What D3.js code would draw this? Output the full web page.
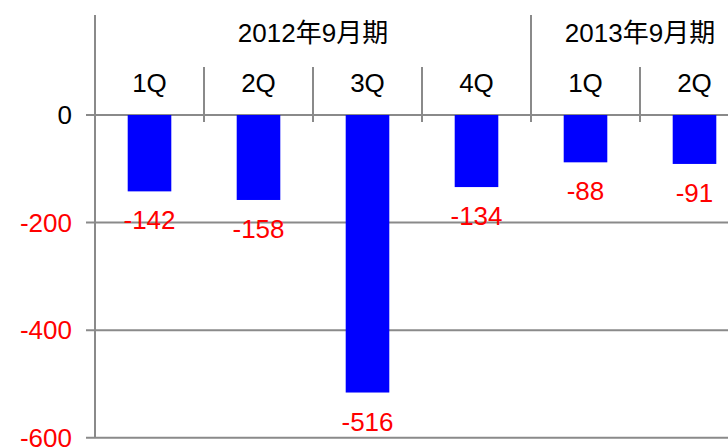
<!DOCTYPE html>
<html>
<head>
<meta charset="utf-8">
<script src="https://cdn.jsdelivr.net/npm/d3@7"></script>
<style>
  body { margin: 0; background: #fff; }
  text { font-family: "Liberation Sans", Arial, "Noto Sans CJK JP", sans-serif; }
</style>
</head>
<body>
<div id="chart"></div>
<script>
"use strict";

let quarters = ['1Q', '2Q', '3Q', '4Q', '1Q', '2Q'];
let groups = ['2012年9月期', '2012年9月期', '2012年9月期', '2012年9月期', '2013年9月期', '2013年9月期'];
let values = [-142, -158, -516, -134, -88, -91];
let yTicks = [0, -200, -400, -600];

let width = 728;
let height = 447;
let left = 95;
let step = 109;
let zeroY = 115;
let bottomY = 437.7;
let gridColor = '#8a8a8a';
let fontSize = 26;

let keys = values.map((d, i) => i);

let x = d3.scaleBand()
  .domain(keys)
  .range([left, left + step * keys.length])
  .paddingInner(0.6)
  .paddingOuter(0.3);

let y = d3.scaleLinear()
  .domain([-600, 0])
  .range([bottomY, zeroY]);

let svg = d3.select('#chart')
  .append('svg')
  .attr('width', width)
  .attr('height', height);

// gridlines
svg.append('g')
  .selectAll('line')
  .data(yTicks)
  .join('line')
  .attr('x1', left - 9)
  .attr('x2', width)
  .attr('y1', d => y(d))
  .attr('y2', d => y(d))
  .attr('stroke', gridColor)
  .attr('stroke-width', 2);

// tick labels
svg.append('g')
  .selectAll('text')
  .data(yTicks)
  .join('text')
  .attr('x', left - 23)
  .attr('y', d => y(d) + 9)
  .attr('text-anchor', 'end')
  .attr('font-size', fontSize)
  .attr('fill', d => d === 0 ? '#000' : '#ff0000')
  .text(d => d);

// y axis line
svg.append('line')
  .attr('x1', left).attr('x2', left)
  .attr('y1', 15).attr('y2', bottomY)
  .attr('stroke', gridColor)
  .attr('stroke-width', 2);

let bandStart = i => x(i) - x.step() * x.paddingInner() / 2;

// quarter separators (taller where the fiscal year changes)
svg.append('g')
  .selectAll('line')
  .data(keys.slice(1))
  .join('line')
  .attr('x1', d => bandStart(d))
  .attr('x2', d => bandStart(d))
  .attr('y1', d => groups[d] !== groups[d - 1] ? 15 : 67)
  .attr('y2', zeroY + 7)
  .attr('stroke', gridColor)
  .attr('stroke-width', 2);

// bars
svg.append('g')
  .selectAll('rect')
  .data(values)
  .join('rect')
  .attr('x', (d, i) => x(i))
  .attr('width', x.bandwidth())
  .attr('y', y(0))
  .attr('height', d => y(d) - y(0))
  .attr('fill', '#0000ff');

// value labels
svg.append('g')
  .selectAll('text')
  .data(values)
  .join('text')
  .attr('x', (d, i) => x(i) + x.bandwidth() / 2)
  .attr('y', d => y(d) + 38)
  .attr('text-anchor', 'middle')
  .attr('font-size', fontSize)
  .attr('fill', '#ff0000')
  .text(d => d);

// quarter labels
svg.append('g')
  .selectAll('text')
  .data(quarters)
  .join('text')
  .attr('x', (d, i) => x(i) + x.bandwidth() / 2)
  .attr('y', 92)
  .attr('text-anchor', 'middle')
  .attr('font-size', fontSize)
  .attr('fill', '#000')
  .text(d => d);

// group labels
let groupNames = Array.from(new Set(groups));
svg.append('g')
  .selectAll('text')
  .data(groupNames)
  .join('text')
  .attr('x', g => {
    let idx = keys.filter(i => groups[i] === g);
    return (bandStart(idx[0]) + bandStart(idx[idx.length - 1]) + step) / 2;
  })
  .attr('y', 42)
  .attr('text-anchor', 'middle')
  .attr('font-size', fontSize)
  .attr('fill', '#000')
  .text(d => d);
</script>
</body>
</html>
